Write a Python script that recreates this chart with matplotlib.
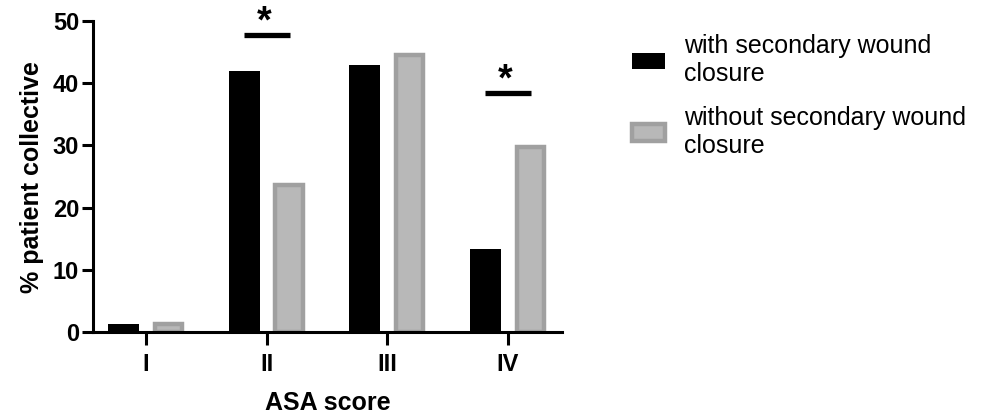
import matplotlib
matplotlib.use("Agg")
import matplotlib.pyplot as plt
import numpy as np

plt.rcParams['font.family'] = ['Liberation Sans', 'DejaVu Sans']

# data
categories = ['I', 'II', 'III', 'IV']
with_closure = [1.3, 42.0, 42.9, 13.4]
without_closure = [1.3, 23.7, 44.6, 29.7]
labels = ['with secondary wound\nclosure', 'without secondary wound\nclosure']
sig_groups = [1, 3]          # groups marked with *
sig_heights = [47.7, 38.4]

fig = plt.figure(figsize=(9.84, 4.15), dpi=100)
ax = fig.add_axes([0.0945, 0.2, 0.4765, 0.749])

x = np.arange(len(categories))
w = 0.257
off = 0.186
ax.bar(x - off, with_closure, w, color='black', label=labels[0])
ax.bar(x + off, without_closure, w - 0.03, color='#b8b8b8', edgecolor='#a0a0a0',
       linewidth=3.2, label=labels[1])

# significance lines and stars
for g, h in zip(sig_groups, sig_heights):
    ax.plot([g - 0.19, g + 0.19], [h, h], color='black', linewidth=3.8,
            solid_capstyle='butt')
    ax.text(g - 0.02, h + 0.4, '*', ha='center', va='baseline', fontsize=27,
            fontweight='bold')

ax.set_xlim(-0.439, 3.447)
ax.set_ylim(0, 50)
ax.set_yticks([0, 10, 20, 30, 40, 50])
ax.set_xticks(x)
ax.set_xticklabels(categories)

for s in ['top', 'right']:
    ax.spines[s].set_visible(False)
for s in ['left', 'bottom']:
    ax.spines[s].set_linewidth(2.2)

ax.tick_params(axis='y', length=8, width=2.2, labelsize=17, pad=2)
ax.tick_params(axis='x', length=9, width=2.2, labelsize=17, pad=6)
for t in ax.get_xticklabels() + ax.get_yticklabels():
    t.set_fontweight('bold')

ax.set_xlabel('ASA score', fontsize=18, fontweight='bold', labelpad=11)
ax.set_ylabel('% patient collective', fontsize=18, fontweight='bold', labelpad=6)

ax.legend(loc='upper left', bbox_to_anchor=(1.128, 0.99), frameon=False,
          fontsize=18, handlelength=1.32, handleheight=0.64,
          handletextpad=0.75, labelspacing=0.8, borderaxespad=0)

fig.savefig('out.png', dpi=100)
